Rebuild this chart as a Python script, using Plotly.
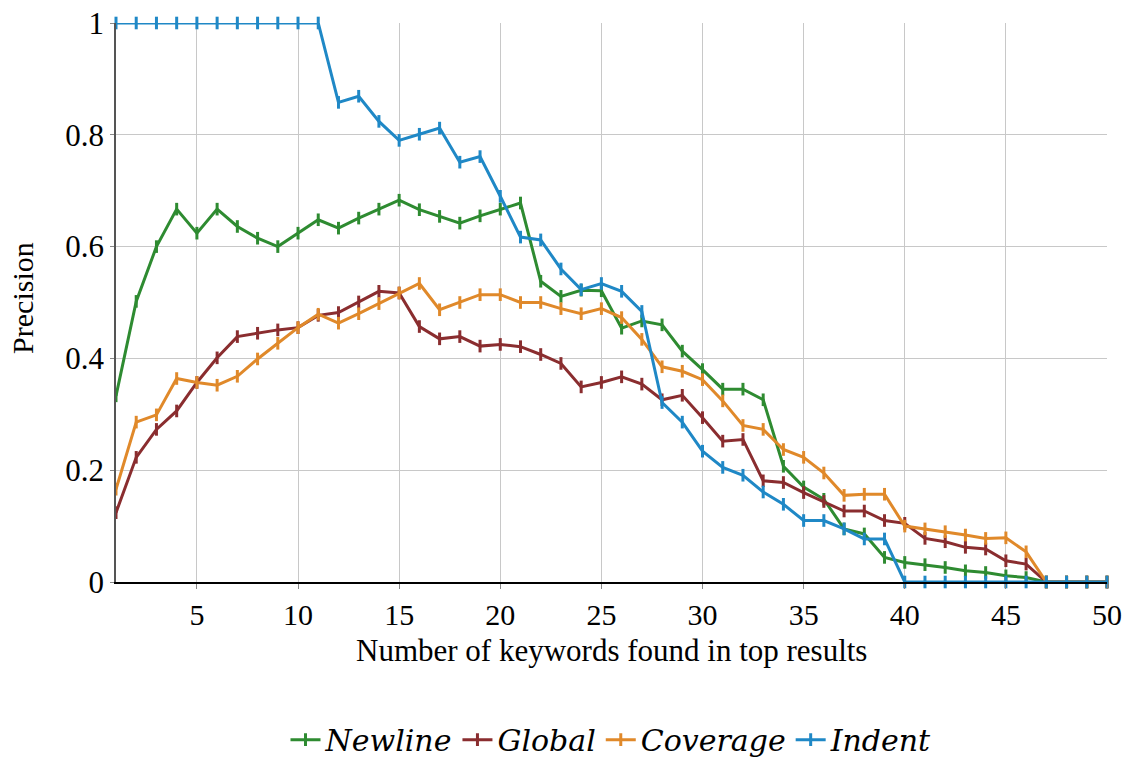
import plotly.graph_objects as go

keywords = list(range(1, 51))

newline = [0.333, 0.502, 0.600, 0.667, 0.624, 0.667, 0.636, 0.615, 0.600, 0.624,
           0.648, 0.633, 0.651, 0.667, 0.683, 0.666, 0.654, 0.642, 0.655, 0.667,
           0.678, 0.538, 0.511, 0.522, 0.521, 0.454, 0.467, 0.460, 0.413, 0.380,
           0.345, 0.345, 0.326, 0.207, 0.170, 0.148, 0.095, 0.086, 0.044, 0.035,
           0.031, 0.026, 0.020, 0.017, 0.011, 0.008, 0.0, 0.0, 0.0, 0.0]

global_ = [0.124, 0.223, 0.273, 0.306, 0.357, 0.401, 0.439, 0.445, 0.451, 0.455,
           0.477, 0.482, 0.501, 0.520, 0.517, 0.457, 0.435, 0.439, 0.422, 0.425,
           0.421, 0.407, 0.391, 0.349, 0.357, 0.367, 0.354, 0.326, 0.334, 0.294,
           0.252, 0.255, 0.181, 0.178, 0.160, 0.144, 0.127, 0.127, 0.110, 0.105,
           0.078, 0.072, 0.062, 0.059, 0.038, 0.032, 0.0, 0.0, 0.0, 0.0]

coverage = [0.166, 0.286, 0.299, 0.364, 0.357, 0.352, 0.368, 0.399, 0.427, 0.455,
            0.479, 0.463, 0.480, 0.498, 0.517, 0.534, 0.487, 0.500, 0.514, 0.514,
            0.500, 0.500, 0.489, 0.480, 0.489, 0.473, 0.434, 0.385, 0.377, 0.362,
            0.324, 0.280, 0.273, 0.237, 0.223, 0.195, 0.155, 0.157, 0.157, 0.100,
            0.095, 0.090, 0.084, 0.078, 0.079, 0.054, 0.0, 0.0, 0.0, 0.0]

indent = [1.0, 1.0, 1.0, 1.0, 1.0, 1.0, 1.0, 1.0, 1.0, 1.0,
          1.0, 0.858, 0.869, 0.824, 0.790, 0.801, 0.812, 0.751, 0.761, 0.690,
          0.617, 0.612, 0.560, 0.523, 0.534, 0.520, 0.484, 0.321, 0.286, 0.234,
          0.205, 0.191, 0.161, 0.139, 0.110, 0.110, 0.095, 0.077, 0.077, 0.0,
          0.0, 0.0, 0.0, 0.0, 0.0, 0.0, 0.0, 0.0, 0.0, 0.0]

series = [
    ("Newline", newline, "#2E8B31"),
    ("Global", global_, "#8A2D2F"),
    ("Coverage", coverage, "#E0892A"),
    ("Indent", indent, "#1F88C6"),
]

x_title = "Number of keywords found in top results"
y_title = "Precision"

SERIF = "Liberation Serif"
ITALIC_SERIF = "DejaVu Serif"

fig = go.Figure()
for name, vals, color in series:
    fig.add_trace(go.Scatter(
        x=keywords, y=vals, name=name,
        mode="lines+markers",
        line=dict(color=color, width=3),
        marker=dict(symbol="line-ns", size=9, color=color,
                    line=dict(color=color, width=3)),
        cliponaxis=False,
    ))

fig.update_layout(
    width=1127, height=762,
    margin=dict(l=116, r=20, t=23, b=180, autoexpand=False),
    paper_bgcolor="white", plot_bgcolor="white",
    font=dict(family=SERIF, size=30, color="black"),
    showlegend=True,
    legend=dict(orientation="h", x=0.5, xanchor="center", y=-0.282, yanchor="middle",
                font=dict(family=ITALIC_SERIF, size=30, style="italic"), itemwidth=30,
                tracegroupgap=0, bgcolor="rgba(0,0,0,0)"),
    annotations=[
        dict(text=x_title, xref="paper", yref="paper", x=0.5, y=-0.122,
             xanchor="center", yanchor="middle", showarrow=False,
             font=dict(family=SERIF, size=31)),
        dict(text=y_title, xref="paper", yref="paper", x=-0.095, y=0.508,
             xanchor="center", yanchor="middle", showarrow=False, textangle=-90,
             font=dict(family=SERIF, size=30)),
    ],
)

fig.update_xaxes(
    range=[1, 50], tickvals=[5, 10, 15, 20, 25, 30, 35, 40, 45, 50],
    showgrid=True, gridcolor="#c8c8c8", gridwidth=1,
    showline=True, linecolor="black", linewidth=1.5,
    ticks="outside", ticklen=5, tickcolor="#888888",
    tickfont=dict(size=30), automargin=False,
    zeroline=False,
)
fig.update_yaxes(
    range=[0, 1], tickvals=[0, 0.2, 0.4, 0.6, 0.8, 1],
    ticktext=["0", "0.2", "0.4", "0.6", "0.8", "1"],
    showgrid=True, gridcolor="#c8c8c8", gridwidth=1,
    showline=True, linecolor="#555555", linewidth=1.5,
    ticks="outside", ticklen=4, tickcolor="#888888",
    tickfont=dict(size=31), automargin=False,
    zeroline=False,
)

fig.write_html("out.html")
